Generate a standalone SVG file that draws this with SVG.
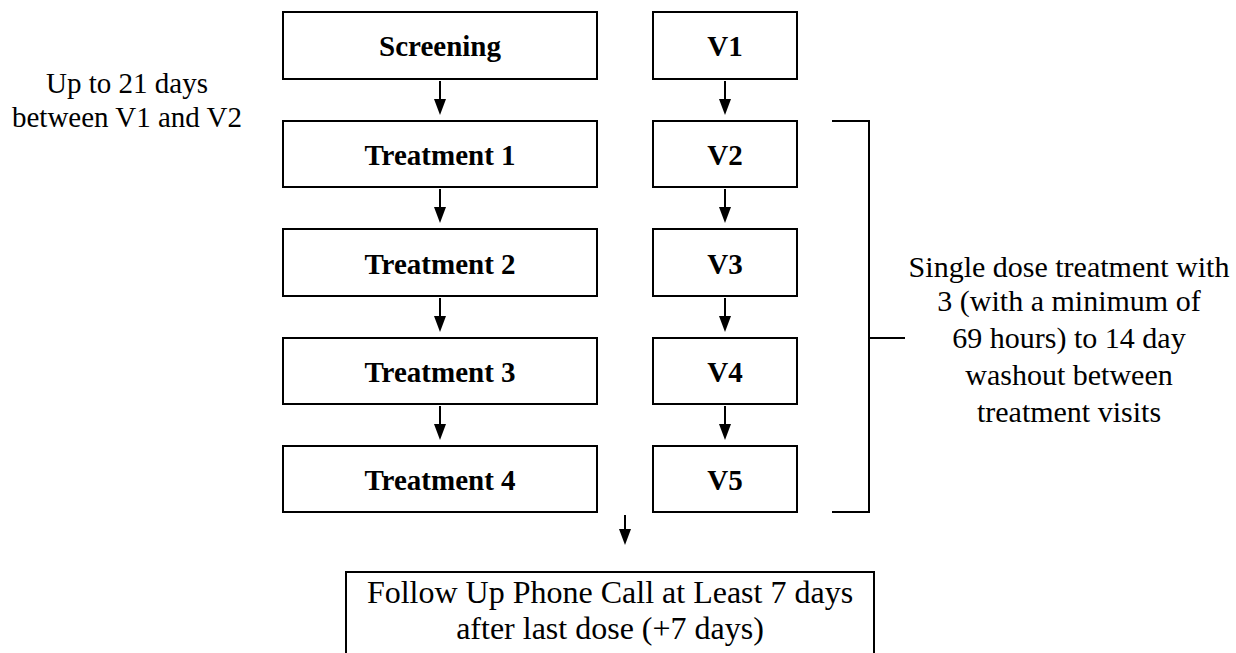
<svg xmlns="http://www.w3.org/2000/svg" width="1236" height="653" viewBox="0 0 1236 653">
<style>
.box{fill:#fff;stroke:#000;stroke-width:2}
.lbl{font-family:"Liberation Serif",serif;font-weight:bold;font-size:29px;text-anchor:middle;fill:#000}
.txt{font-family:"Liberation Serif",serif;font-size:29px;text-anchor:middle;fill:#000}
.ln{stroke:#000;stroke-width:2;fill:none}
.hd{fill:#000}
</style>
<rect width="1236" height="653" fill="#fff"/>
<g id="screening"><rect class="box" x="283" y="12" width="314" height="67"/><text class="lbl" x="440" y="56">Screening</text></g>
<g id="treatment1"><rect class="box" x="283" y="121" width="314" height="66"/><text class="lbl" x="440" y="165">Treatment 1</text></g>
<g id="treatment2"><rect class="box" x="283" y="229" width="314" height="67"/><text class="lbl" x="440" y="274">Treatment 2</text></g>
<g id="treatment3"><rect class="box" x="283" y="338" width="314" height="66"/><text class="lbl" x="440" y="382">Treatment 3</text></g>
<g id="treatment4"><rect class="box" x="283" y="446" width="314" height="66"/><text class="lbl" x="440" y="490">Treatment 4</text></g>
<g id="v1"><rect class="box" x="653" y="12" width="144" height="67"/><text class="lbl" x="725" y="56">V1</text></g>
<g id="v2"><rect class="box" x="653" y="121" width="144" height="66"/><text class="lbl" x="725" y="165">V2</text></g>
<g id="v3"><rect class="box" x="653" y="229" width="144" height="67"/><text class="lbl" x="725" y="274">V3</text></g>
<g id="v4"><rect class="box" x="653" y="338" width="144" height="66"/><text class="lbl" x="725" y="382">V4</text></g>
<g id="v5"><rect class="box" x="653" y="446" width="144" height="66"/><text class="lbl" x="725" y="490">V5</text></g>
<g id="followup"><rect class="box" x="346" y="572" width="528" height="100"/>
<text class="txt" x="610" y="603" style="font-size:32px">Follow Up Phone Call at Least 7 days</text>
<text class="txt" x="610" y="639" style="font-size:32px">after last dose (+7 days)</text></g>
<g id="note-left"><text class="txt" x="127" y="93">Up to 21 days</text><text class="txt" x="127" y="127">between V1 and V2</text></g>
<g id="note-right">
<text class="txt" x="1069" y="277" style="font-size:30px">Single dose treatment with</text>
<text class="txt" x="1069" y="311" style="font-size:30px">3 (with a minimum of</text>
<text class="txt" x="1069" y="348" style="font-size:30px">69 hours) to 14 day</text>
<text class="txt" x="1069" y="385" style="font-size:30px">washout between</text>
<text class="txt" x="1069" y="422" style="font-size:30px">treatment visits</text>
</g>
<g id="connectors">
<path class="ln" d="M440 81V101M440 189V209M440 298V318M440 406V426M725 81V101M725 189V209M725 298V318M725 406V426M625 515V531"/>
<g class="hd">
<polygon points="434,99 446,99 440,115"/><polygon points="434,207 446,207 440,223"/><polygon points="434,316 446,316 440,332"/><polygon points="434,424 446,424 440,440"/>
<polygon points="719,99 731,99 725,115"/><polygon points="719,207 731,207 725,223"/><polygon points="719,316 731,316 725,332"/><polygon points="719,424 731,424 725,440"/>
<polygon points="619,529 631,529 625,545"/>
</g>
<path class="ln" d="M832 121H869V512H832M869 338H905"/>
</g>
</svg>
